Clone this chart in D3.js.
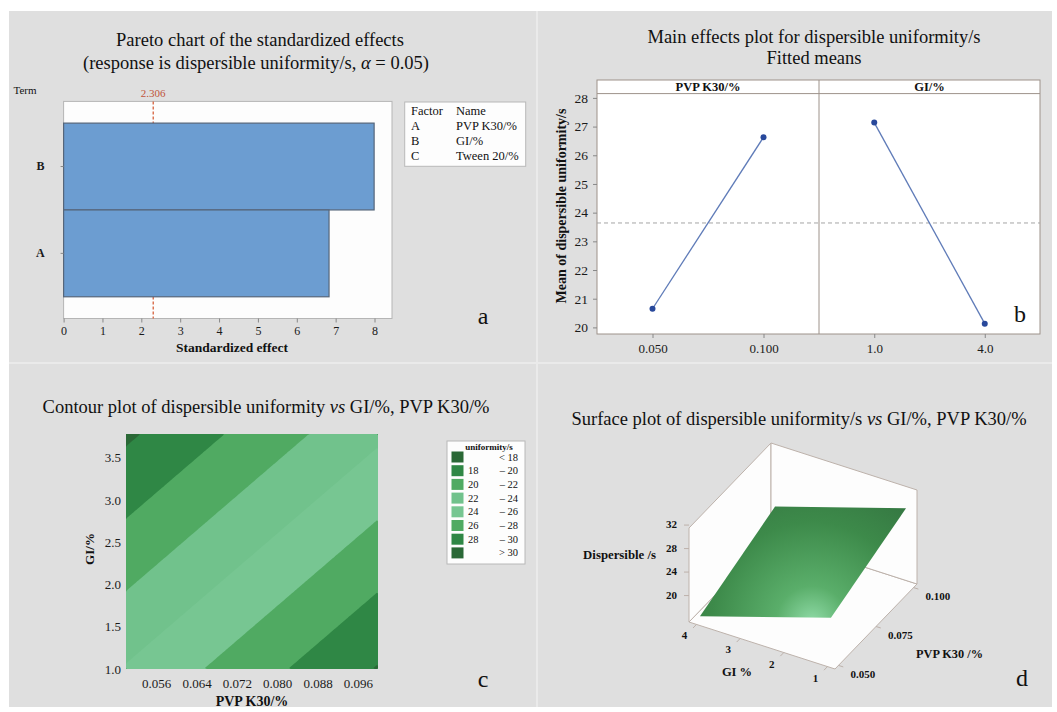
<!DOCTYPE html>
<html>
<head>
<meta charset="UTF-8" />
<script src="https://d3js.org/d3.v7.min.js"></script>
<style>
  body { margin: 0; background: #fff; }
  svg text { font-family: "Liberation Serif", "Times New Roman", serif; }
  .tick line { stroke: #888; }
</style>
</head>
<body>
<script>
// ---- data: panel a (Pareto)
const terms = ["B", "A"];
const stdEffects = [7.99, 6.83];
const criticalT = 2.306;
const paretoTicks = [0, 1, 2, 3, 4, 5, 6, 7, 8];
const factorCodes = ["A", "B", "C"];
const factorNames = ["PVP K30/%", "GI/%", "Tween 20/%"];

// ---- data: panel b (main effects)
const pvpLevels = ["0.050", "0.100"];
const pvpValues = [0.05, 0.10];
const pvpMeans = [20.65, 26.63];
const giLevels = ["1.0", "4.0"];
const giValues = [1, 4];
const giMeans = [27.14, 20.13];
const meanTicks = [20, 21, 22, 23, 24, 25, 26, 27, 28];

// ---- data: panel c (contour)
const contourBreaks = [18, 20, 22, 24, 26, 28, 30];
const bandColors = ["#2a6836", "#2f8745", "#50aa62", "#71c28c", "#77c692", "#50aa62", "#2f8745", "#2a6836"];
const contourXTicks = [0.056, 0.064, 0.072, 0.080, 0.088, 0.096];
const contourYTicks = [1.0, 1.5, 2.0, 2.5, 3.0, 3.5];

// ---- data: panel d (surface), z read at the corners of the data range
const surfGI = [1, 4];
const surfPVP = [0.05, 0.10];
const surfZ = [[23.2, 28.6], [16.3, 21.7]]; // rows: GI, cols: PVP
const zTicks = [20, 24, 28, 32];
const giTicks3d = [1, 2, 3, 4];
const pvpTicks3d = [0.050, 0.075, 0.100];

const SERIF = "'Liberation Serif', 'Times New Roman', serif";
const svg = d3.select("body").append("svg").attr("width", 1057).attr("height", 712);
svg.append("rect").attr("x", 9).attr("y", 11).attr("width", 1043).attr("height", 696).attr("fill", "#eaeaea");
[[9, 11, 527, 351], [538, 11, 514, 351], [9, 364, 527, 343], [538, 364, 514, 343]].forEach(p => {
  svg.append("rect").attr("x", p[0]).attr("y", p[1]).attr("width", p[2]).attr("height", p[3]).attr("fill", "#dfdfdf");
});

function txt(x, y, s, size, opts = {}) {
  return svg.append("text").attr("x", x).attr("y", y)
    .style("font-family", SERIF)
    .attr("font-size", size)
    .attr("text-anchor", opts.anchor || "middle")
    .attr("dominant-baseline", "central")
    .attr("font-weight", opts.bold ? "bold" : null)
    .attr("fill", opts.fill || "#111")
    .text(s);
}
function styleAxis(g, size) {
  g.attr("font-family", null).attr("font-size", null);
  g.select(".domain").remove();
  g.selectAll("text").style("font-family", SERIF).attr("font-size", size).attr("fill", "#1a1a1a");
}

// ================= panel a =================
txt(260, 40, "Pareto chart of the standardized effects", 18.5);
const t2 = txt(256, 62.5, "(response is dispersible uniformity/s, ", 18.5);
t2.append("tspan").attr("font-style", "italic").text("α");
t2.append("tspan").text(" = 0.05)");

const xA = d3.scaleLinear().domain([0, 8.45]).range([63.6, 392]);
const yA = d3.scaleBand().domain(terms).range([101.4, 318.5]).paddingInner(0).paddingOuter(0.25);

svg.append("rect").attr("x", 63.6).attr("y", 101.4).attr("width", 392 - 63.6).attr("height", 318.5 - 101.4)
  .attr("fill", "#fdfdfd").attr("stroke", "#b5b5b5");
svg.append("line").attr("x1", xA(criticalT)).attr("x2", xA(criticalT)).attr("y1", 101.4).attr("y2", 318.5)
  .attr("stroke", "#d6603c").attr("stroke-width", 1.3).attr("stroke-dasharray", "3,2");
svg.selectAll(".bar").data(terms).enter().append("rect")
  .attr("x", xA(0)).attr("y", d => yA(d))
  .attr("width", (d, i) => xA(stdEffects[i]) - xA(0)).attr("height", yA.bandwidth())
  .attr("fill", "#6c9dd1").attr("stroke", "#56667a").attr("stroke-width", 1.2);

const axA = svg.append("g").attr("transform", "translate(0,318.5)")
  .call(d3.axisBottom(xA).tickValues(paretoTicks).tickSize(4).tickPadding(4).tickFormat(d3.format("d")));
styleAxis(axA, 12);
const ayA = svg.append("g").attr("transform", "translate(63.6,0)")
  .call(d3.axisLeft(yA).tickSize(3).tickPadding(16));
styleAxis(ayA, 12);
ayA.selectAll("text").attr("font-weight", "bold");
txt(25, 90, "Term", 11);
txt(xA(criticalT), 93, "2.306", 11, { fill: "#c0553a" });
txt(232, 347, "Standardized effect", 13.5, { bold: true });

svg.append("rect").attr("x", 404.7).attr("y", 102).attr("width", 121).attr("height", 64.3)
  .attr("fill", "#fdfdfd").attr("stroke", "#b8b8b8");
txt(411, 111, "Factor", 12.5, { anchor: "start" });
txt(456, 111, "Name", 12.5, { anchor: "start" });
factorCodes.forEach((c, i) => {
  txt(411, 126 + i * 15, c, 12.5, { anchor: "start" });
  txt(456, 126 + i * 15, factorNames[i], 12.5, { anchor: "start" });
});
txt(483, 316, "a", 24);

// ================= panel b =================
txt(814, 37, "Main effects plot for dispersible uniformity/s", 18.5);
txt(814, 58, "Fitted means", 18.5);

const frameB = { x0: 597, x1: 1040, y0: 80, yh: 93.6, y1: 334, mid: 819 };
const xPvp = d3.scalePoint().domain(pvpLevels).range([frameB.x0, frameB.mid]).padding(0.5);
const xGi = d3.scalePoint().domain(giLevels).range([frameB.mid, frameB.x1]).padding(0.5);
const yB = d3.scaleLinear().domain([19.77, 28.15]).range([frameB.y1, frameB.yh]);

svg.append("rect").attr("x", frameB.x0).attr("y", frameB.y0).attr("width", frameB.x1 - frameB.x0)
  .attr("height", frameB.y1 - frameB.y0).attr("fill", "#fff").attr("stroke", "#9d928a");
svg.append("line").attr("x1", frameB.x0).attr("x2", frameB.x1).attr("y1", frameB.yh).attr("y2", frameB.yh).attr("stroke", "#9d928a");
svg.append("line").attr("x1", frameB.mid).attr("x2", frameB.mid).attr("y1", frameB.y0).attr("y2", frameB.y1).attr("stroke", "#9d928a");
txt((frameB.x0 + frameB.mid) / 2, 86.8, "PVP K30/%", 12.5, { bold: true });
txt((frameB.mid + frameB.x1) / 2, 86.8, "GI/%", 12.5, { bold: true });

const grandMean = d3.mean(pvpMeans);
svg.append("line").attr("x1", frameB.x0).attr("x2", frameB.x1).attr("y1", yB(grandMean)).attr("y2", yB(grandMean))
  .attr("stroke", "#a5a5a5").attr("stroke-dasharray", "4,3");

[[xPvp, pvpLevels, pvpMeans], [xGi, giLevels, giMeans]].forEach(([sx, lev, vals]) => {
  const pts = lev.map((l, i) => [sx(l), yB(vals[i])]);
  svg.append("path").attr("d", d3.line()(pts)).attr("stroke", "#5f7bb8").attr("stroke-width", 1.3).attr("fill", "none");
  svg.selectAll(null).data(pts).enter().append("circle")
    .attr("cx", d => d[0]).attr("cy", d => d[1]).attr("r", 3).attr("fill", "#28489b");
  const ax = svg.append("g").attr("transform", `translate(0,${frameB.y1})`)
    .call(d3.axisBottom(sx).tickSize(4).tickPadding(6));
  styleAxis(ax, 13);
});
const ayB = svg.append("g").attr("transform", `translate(${frameB.x0},0)`)
  .call(d3.axisLeft(yB).tickValues(meanTicks).tickSize(4).tickPadding(5));
styleAxis(ayB, 13.5);
svg.append("text").attr("transform", "translate(561,206) rotate(-90)")
  .style("font-family", SERIF)
  .attr("text-anchor", "middle").attr("dominant-baseline", "central")
  .attr("font-size", 14).attr("font-weight", "bold").attr("fill", "#111")
  .text("Mean of dispersible uniformity/s");
txt(1020, 314, "b", 24);

// ================= panel c =================
const tc = txt(266, 407, "Contour plot of dispersible uniformity ", 18.5);
tc.append("tspan").attr("font-style", "italic").text("vs");
tc.append("tspan").text(" GI/%, PVP K30/%");

const cx0 = 0.05, cx1 = 0.10, cy0 = 1.0, cy1 = 3.78;
const cTop = 434, cBot = 669, cLeft = 126, cRight = 378;
const xC = d3.scaleLinear().domain([cx0, cx1]).range([cLeft, cRight]);
const yC = d3.scaleLinear().domain([cy0, cy1]).range([cBot, cTop]);

// fitted additive model from the main-effect means
const slopeP = (pvpMeans[1] - pvpMeans[0]) / (pvpValues[1] - pvpValues[0]);
const slopeG = (giMeans[1] - giMeans[0]) / (giValues[1] - giValues[0]);
const fitted = (p, g) => grandMean + slopeP * (p - d3.mean(pvpValues)) + slopeG * (g - d3.mean(giValues));

const nx = 120, ny = 120;
const grid = new Array(nx * ny);
for (let j = 0; j < ny; j++) for (let i = 0; i < nx; i++) {
  grid[j * nx + i] = fitted(cx0 + (i + 0.5) / nx * (cx1 - cx0), cy0 + (j + 0.5) / ny * (cy1 - cy0));
}
const bands = d3.contours().size([nx, ny]).thresholds(contourBreaks)(grid);
const gridPath = d3.geoPath(d3.geoTransform({
  point(x, y) { this.stream.point(xC(cx0 + x / nx * (cx1 - cx0)), yC(cy0 + y / ny * (cy1 - cy0))); }
}));
svg.append("clipPath").attr("id", "clipC").append("rect")
  .attr("x", cLeft).attr("y", cTop).attr("width", cRight - cLeft).attr("height", cBot - cTop);
const gC = svg.append("g").attr("clip-path", "url(#clipC)");
gC.append("rect").attr("x", cLeft).attr("y", cTop).attr("width", cRight - cLeft).attr("height", cBot - cTop).attr("fill", bandColors[0]);
gC.selectAll("path").data(bands).enter().append("path")
  .attr("d", gridPath).attr("fill", (d, i) => bandColors[i + 1]);

const axC = svg.append("g").attr("transform", `translate(0,${cBot})`)
  .call(d3.axisBottom(xC).tickValues(contourXTicks).tickSize(0).tickPadding(10).tickFormat(d3.format(".3f")));
styleAxis(axC, 13);
const ayC = svg.append("g").attr("transform", `translate(${cLeft},0)`)
  .call(d3.axisLeft(yC).tickValues(contourYTicks).tickSize(0).tickPadding(5).tickFormat(d3.format(".1f")));
styleAxis(ayC, 13);
txt(252, 701, "PVP K30/%", 14, { bold: true });
svg.append("text").attr("transform", "translate(89,549) rotate(-90)")
  .style("font-family", SERIF)
  .attr("text-anchor", "middle").attr("dominant-baseline", "central")
  .attr("font-size", 13).attr("font-weight", "bold").attr("fill", "#111").text("GI/%");

svg.append("rect").attr("x", 447).attr("y", 441).attr("width", 78).attr("height", 123)
  .attr("fill", "#fdfdfd").attr("stroke", "#b8b8b8");
txt(489, 447, "uniformity/s", 9, { bold: true });
bandColors.forEach((c, i) => {
  const y = 457 + i * 13.7;
  svg.append("rect").attr("x", 451.5).attr("y", y - 5.5).attr("width", 12).attr("height", 11).attr("fill", c);
  const lo = i === 0 ? null : contourBreaks[i - 1];
  const hi = i === contourBreaks.length ? null : contourBreaks[i];
  if (lo !== null && hi !== null) {
    txt(468, y, lo, 10.5, { anchor: "start" });
    txt(518, y, "–  " + hi, 10.5, { anchor: "end" });
  } else {
    txt(518, y, lo === null ? "<  " + hi : ">  " + lo, 10.5, { anchor: "end" });
  }
});
txt(483, 679, "c", 24);

// ================= panel d =================
const td = txt(799, 419, "Surface plot of dispersible uniformity/s ", 18.5);
td.append("tspan").attr("font-style", "italic").text("vs");
td.append("tspan").text(" GI/%, PVP K30/%");

const uS = d3.scaleLinear().domain([0.828, 4.172]).range([0, 1]);
const vS = d3.scaleLinear().domain([0.0477, 0.1023]).range([0, 1]);
const zS = d3.scaleLinear().domain([15.5, 31.5]).range([0, 94]);
const origin = [835, 669], giDir = [-146, -47], pvpDir = [82, -85];
const proj = (g, p, z) => [
  origin[0] + uS(g) * giDir[0] + vS(p) * pvpDir[0],
  origin[1] + uS(g) * giDir[1] + vS(p) * pvpDir[1] - zS(z)
];
const [gLo, gHi] = uS.domain(), [pLo, pHi] = vS.domain(), [zLo, zHi] = zS.domain();
const boxStyle = s => s.attr("fill", "#fdfdfd").attr("stroke", "#bdb2ab").attr("stroke-width", 1);
boxStyle(svg.append("path").attr("d", d3.line()([proj(gLo, pLo, zLo), proj(gHi, pLo, zLo), proj(gHi, pHi, zLo), proj(gLo, pHi, zLo)]) + "Z"));
boxStyle(svg.append("path").attr("d", d3.line()([proj(gHi, pLo, zLo), proj(gHi, pHi, zLo), proj(gHi, pHi, zHi), proj(gHi, pLo, zHi)]) + "Z"));
boxStyle(svg.append("path").attr("d", d3.line()([proj(gHi, pHi, zLo), proj(gLo, pHi, zLo), proj(gLo, pHi, zHi), proj(gHi, pHi, zHi)]) + "Z"));

const defs = svg.append("defs");
const rg = defs.append("radialGradient").attr("id", "surfGrad").attr("gradientUnits", "userSpaceOnUse")
  .attr("cx", 812).attr("cy", 622).attr("r", 200);
rg.append("stop").attr("offset", "0%").attr("stop-color", "#8fdaa6");
rg.append("stop").attr("offset", "18%").attr("stop-color", "#5aae6a");
rg.append("stop").attr("offset", "50%").attr("stop-color", "#3d8a4a");
rg.append("stop").attr("offset", "100%").attr("stop-color", "#2d643a");
const corners = [[1, 0], [0, 0], [0, 1], [1, 1]].map(([gi, pi]) => proj(surfGI[gi], surfPVP[pi], surfZ[gi][pi]));
svg.append("path").attr("d", d3.line()(corners) + "Z").attr("fill", "url(#surfGrad)");

zTicks.forEach(z => {
  const [x, y] = proj(gHi, pLo, z);
  svg.append("line").attr("x1", x - 5).attr("x2", x).attr("y1", y).attr("y2", y).attr("stroke", "#bdb2ab");
  txt(x - 12, y - 1, z, 11, { anchor: "end", bold: true });
});
giTicks3d.forEach(g => {
  const [x, y] = proj(g, pLo, zLo);
  svg.append("line").attr("x1", x).attr("x2", x - 3.5).attr("y1", y).attr("y2", y + 3.6).attr("stroke", "#bdb2ab");
  txt(x - 12, y + 11, g, 11, { bold: true });
});
pvpTicks3d.forEach(p => {
  const [x, y] = proj(gLo, p, zLo);
  svg.append("line").attr("x1", x).attr("x2", x + 4.8).attr("y1", y).attr("y2", y + 1.5).attr("stroke", "#bdb2ab");
  txt(x + 12, y + 8.5, d3.format(".3f")(p), 11, { anchor: "start", bold: true });
});
txt(656, 555, "Dispersible /s", 12.8, { anchor: "end", bold: true });
txt(737, 672, "GI %", 12.5, { bold: true });
txt(916, 654, "PVP K30 /%", 12.3, { anchor: "start", bold: true });
txt(1022, 678, "d", 24);
</script>
</body>
</html>
